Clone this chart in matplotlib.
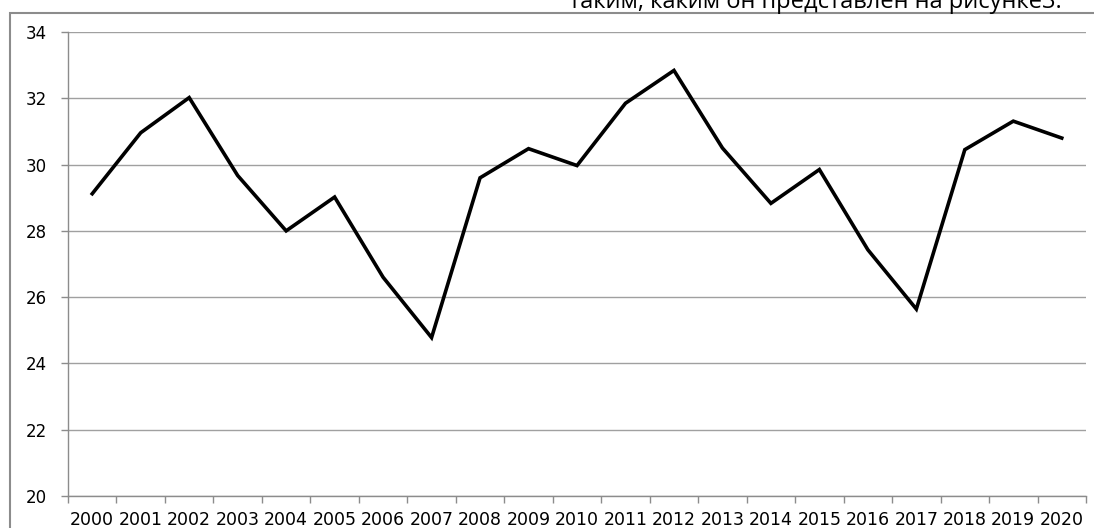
import matplotlib.pyplot as plt
from matplotlib.patches import Rectangle
import numpy as np

# data
years = [str(y) for y in range(2000, 2021)]
values = [29.12, 30.96, 32.02, 29.67, 28.0, 29.02, 26.6, 24.78, 29.6, 30.48,
          29.97, 31.85, 32.84, 30.5, 28.83, 29.85, 27.43, 25.64, 30.45, 31.31,
          30.8]
yticks = [20, 22, 24, 26, 28, 30, 32, 34]
caption = "таким, каким он представлен на рисунке3."

W, H = 1094, 528
fig = plt.figure(figsize=(W / 100, H / 100), dpi=100)

# outer chart border (cut by the image edge on right and bottom)
fig.patches.append(Rectangle((10 / W, -0.2), 1.2, 1.2 - 13 / H,
                             transform=fig.transFigure, fill=False,
                             edgecolor='#8c8c8c', linewidth=1.5))

# caption from the page above, half cut off by the crop
fig.text(1062 / W, 1 - 8 / H, caption, ha='right', va='baseline',
         fontsize=17, family=['Open Sans', 'DejaVu Sans'], color='black')

ax = fig.add_axes([68 / W, 32 / H, (1086 - 68) / W, (496 - 32) / H])

x = np.arange(len(years))
ax.plot(x, values, color='black', linewidth=2.6, solid_joinstyle='miter')

ax.set_xlim(-0.5, len(years) - 0.5)
ax.set_ylim(20, 34)
ax.set_yticks(yticks)
ax.set_yticklabels([str(v) for v in yticks])

ax.set_xticks(np.arange(-0.5, len(years), 1.0))
ax.set_xticklabels([])
ax.set_xticks(x, minor=True)
ax.set_xticklabels(years, minor=True)

ax.tick_params(axis='x', which='major', length=5, color='#8c8c8c', width=1)
ax.tick_params(axis='x', which='minor', length=0, pad=11, labelsize=12.5)
ax.tick_params(axis='y', length=5, color='#8c8c8c', width=1, pad=10,
               labelsize=12)

ax.grid(axis='y', color='#a0a0a0', linewidth=1)
ax.set_axisbelow(True)
for s in ['top', 'right']:
    ax.spines[s].set_visible(False)
for s in ['left', 'bottom']:
    ax.spines[s].set_color('#8c8c8c')
    ax.spines[s].set_linewidth(1)

fig.savefig('out.png', dpi=100)
